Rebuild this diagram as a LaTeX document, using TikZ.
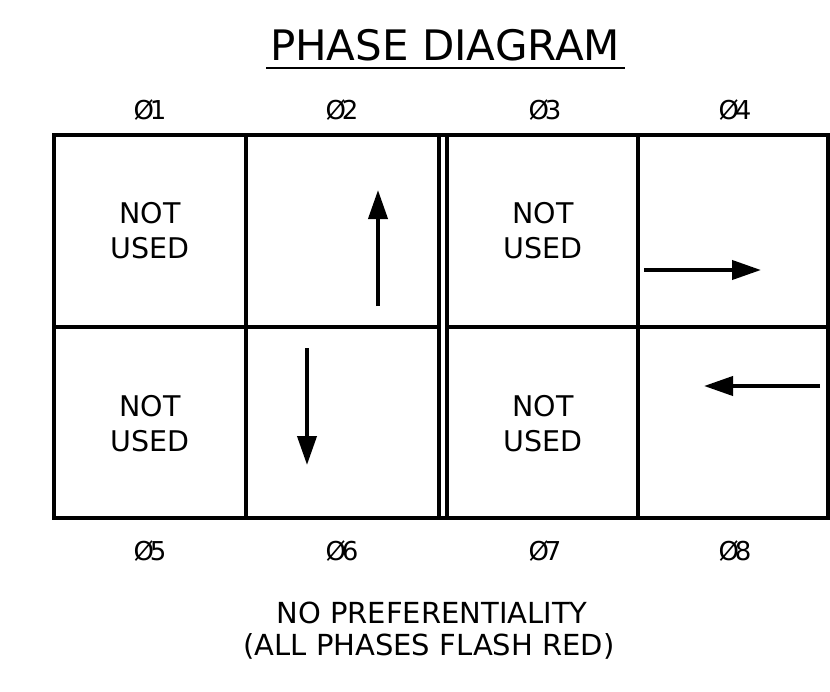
\documentclass[tikz,border=0pt]{standalone}
\usepackage{fontspec}
\setmainfont{DejaVu Sans}
\usetikzlibrary{arrows.meta}
\newcommand{\phs}[1]{Ø\kern-0.17em#1}
\tikzset{
  gridline/.style={line width=4pt, line cap=rect},
  flow/.style={line width=4pt, -{Triangle[length=29pt,width=19pt]}},
  cell/.style={anchor=base, inner sep=0pt, font=\fontsize{28.5}{34}\selectfont},
  phlabel/.style={anchor=base, inner sep=0pt, font=\fontsize{26}{30}\selectfont},
  foot/.style={anchor=base, inner sep=0pt, font=\fontsize{29}{32}\selectfont},
}
\begin{document}
\begin{tikzpicture}[x=1pt,y=-1pt]
\useasboundingbox (0,0) rectangle (830,691);
% title
\node[anchor=base, inner sep=0pt, font=\fontsize{42}{48}\selectfont] (title) at (445,60) {PHASE DIAGRAM};
\draw[line width=2.5pt] (266,68) -- (625,68);
% grid
\draw[gridline] (54,135) -- (828,135);
\draw[gridline] (54,518) -- (828,518);
\draw[gridline] (54,135) -- (54,518);
\draw[gridline] (828,135) -- (828,518);
\draw[gridline] (246,135) -- (246,518);
\draw[gridline] (638,135) -- (638,518);
\draw[gridline] (438.5,135) -- (438.5,518);
\draw[gridline] (447,135) -- (447,518);
\draw[gridline] (54,327) -- (438.5,327);
\draw[gridline] (447,327) -- (828,327);
% phase labels
\node[phlabel] (p1) at (150,119) {\phs{1}};
\node[phlabel] (p2) at (342,119) {\phs{2}};
\node[phlabel] (p3) at (545,119) {\phs{3}};
\node[phlabel] (p4) at (735,119) {\phs{4}};
\node[phlabel] (p5) at (150,560) {\phs{5}};
\node[phlabel] (p6) at (342,560) {\phs{6}};
\node[phlabel] (p7) at (545,560) {\phs{7}};
\node[phlabel] (p8) at (735,560) {\phs{8}};
% cell texts
\node[cell] (n1a) at (150,223) {NOT};
\node[cell] (n1b) at (150,258) {USED};
\node[cell] (n3a) at (543,223) {NOT};
\node[cell] (n3b) at (543,258) {USED};
\node[cell] (n5a) at (150,416) {NOT};
\node[cell] (n5b) at (150,451) {USED};
\node[cell] (n7a) at (543,416) {NOT};
\node[cell] (n7b) at (543,451) {USED};
% arrows
\coordinate (a2s) at (378,306); \coordinate (a2e) at (378,190);
\coordinate (a6s) at (307,348); \coordinate (a6e) at (307,465);
\coordinate (a4s) at (644,270); \coordinate (a4e) at (761,270);
\coordinate (a8s) at (820,386); \coordinate (a8e) at (704,386);
\draw[flow] (a2s) -- (a2e);
\draw[flow] (a6s) -- (a6e);
\draw[flow] (a4s) -- (a4e);
\draw[flow] (a8s) -- (a8e);
% footer
\node[foot] (f1) at (432,623) {NO PREFERENTIALITY};
\node[foot] (f2) at (429,655) {(ALL PHASES FLASH RED)};
\end{tikzpicture}
\end{document}
